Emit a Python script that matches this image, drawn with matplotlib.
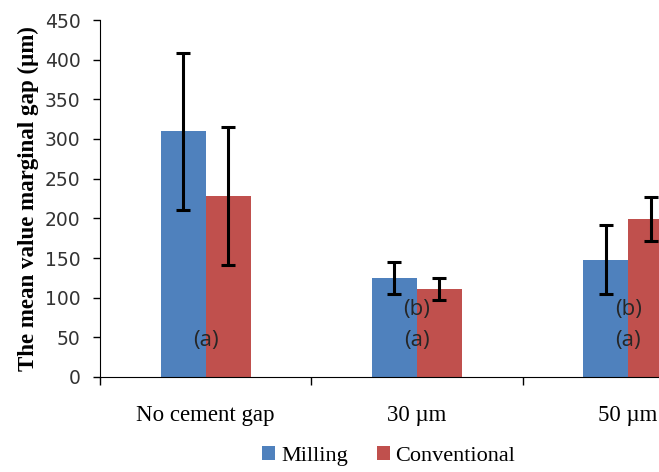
import matplotlib.pyplot as plt
import numpy as np

categories = ["No cement gap", "30 \u00b5m", "50 \u00b5m"]
milling = [310, 125, 148]
milling_err = [99, 20, 44]
conventional = [228, 111, 199]
conventional_err = [87, 14, 28]
series_names = ["Milling", "Conventional"]
letters_top = ["", "(b)", "(b)"]
letters_bottom = ["(a)", "(a)", "(a)"]

blue = "#4f81bd"
red = "#c0504d"
serif = "Liberation Serif"

fig = plt.figure(figsize=(6.59, 4.72), dpi=100)
ax = fig.add_axes([100/659, 1 - 377/472, 1 - 100/659 + 0.001, (377 - 20)/472])

x = np.arange(len(categories))
w = 0.213

ax.bar(x - w/2, milling, w, color=blue, label=series_names[0])
ax.bar(x + w/2, conventional, w, color=red, label=series_names[1])
ax.errorbar(x - w/2, milling, yerr=milling_err, fmt="none", ecolor="black",
            elinewidth=2.2, capsize=5, capthick=2.2)
ax.errorbar(x + w/2, conventional, yerr=conventional_err, fmt="none", ecolor="black",
            elinewidth=2.2, capsize=5, capthick=2.2)

# significance letters
for i in range(len(categories)):
    if letters_top[i]:
        ax.text(x[i], 85, letters_top[i], ha="center", va="center",
                fontsize=16, color="#262626", family="Open Sans")
    ax.text(x[i], 46, letters_bottom[i], ha="center", va="center",
            fontsize=16, color="#262626", family="Open Sans")

ax.set_xlim(-0.5, 2.149)
ax.set_ylim(0, 450)
ax.set_yticks(np.arange(0, 451, 50))
ax.tick_params(axis="y", labelsize=13.5, length=5, width=1, direction="out", pad=9)
for lbl in ax.get_yticklabels():
    lbl.set_color("#333333")

ax.set_xticks(x)
ax.set_xticklabels(categories, family=serif, fontsize=16.5)
ax.tick_params(axis="x", length=0, pad=20)
ax.set_xticks([-0.5, 0.5, 1.5], minor=True)
ax.tick_params(axis="x", which="minor", length=6, width=1, direction="out")

ax.spines["top"].set_visible(False)
ax.spines["right"].set_visible(False)

ax.set_ylabel("The mean value marginal gap (\u00b5m)", family=serif, fontsize=16.5,
              fontweight="bold", labelpad=4)

fig.legend(loc="lower center", bbox_to_anchor=(0.59, -0.03), ncol=2, frameon=False,
           prop={"family": serif, "size": 16}, handlelength=0.6, handleheight=0.6,
           handletextpad=0.25, columnspacing=1.3)

fig.savefig("out.png", dpi=100)
